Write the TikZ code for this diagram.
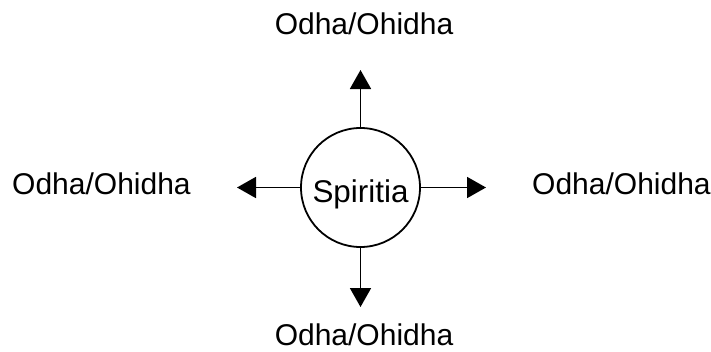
\documentclass[tikz,border=0pt]{standalone}
\usepackage{fontspec}
\setmainfont{Liberation Sans}
\usetikzlibrary{arrows.meta}
\begin{document}
\begin{tikzpicture}[x=1pt, y=-1pt,
  hub/.style={circle, draw, line width=1.8pt, minimum size=119pt, inner sep=0pt},
  label/.style={inner sep=0pt, font=\fontsize{30}{36}\selectfont},
  link/.style={line width=1.8pt, -{Triangle[length=19pt, width=21pt]}}]
  \useasboundingbox (0,0) rectangle (711,351);
  % central circle
  \node[hub] (c) at (360.5,187.5) {};
  \node[inner sep=0pt, anchor=base, font=\fontsize{31.4}{38}\selectfont] (ct) at (360.5,202) {Spiritia};
  % arrow end points
  \coordinate (tn) at (360.5,70);
  \coordinate (ts) at (360.5,307);
  \coordinate (tw) at (237,187.5);
  \coordinate (te) at (486,187.5);
  \draw[link] (c.north) -- (tn);
  \draw[link] (c.south) -- (ts);
  \draw[link] (c.west) -- (tw);
  \draw[link] (c.east) -- (te);
  % outer labels
  \node[label, anchor=base] (ln) at (364,34) {Odha/Ohidha};
  \node[label, anchor=base] (ls) at (364,345) {Odha/Ohidha};
  \node[label, anchor=base west] (lw) at (12,194) {Odha/Ohidha};
  \node[label, anchor=base west] (le) at (532,194) {Odha/Ohidha};
\end{tikzpicture}
\end{document}
